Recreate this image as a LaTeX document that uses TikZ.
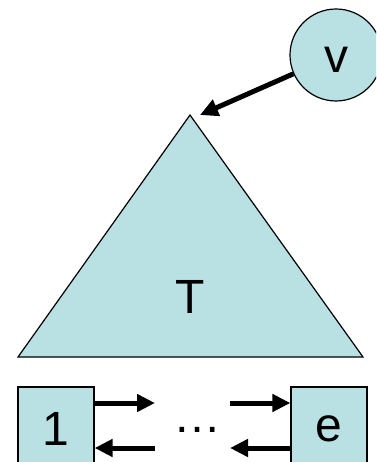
\documentclass[tikz,border=0pt]{standalone}
\usepackage{fontspec}
\setmainfont{Liberation Sans}
\usetikzlibrary{arrows.meta,positioning,calc}
\definecolor{treeblue}{RGB}{185,224,227}

\begin{document}
\begin{tikzpicture}[
    x=1pt, y=-1pt,
    vert/.style={circle, draw=black, line width=1.2pt, fill=treeblue, inner sep=0pt, minimum size=92pt, text height=35pt, text depth=0pt, font=\fontsize{48}{56}\selectfont},
    elem/.style={rectangle, draw=black, line width=1.2pt, fill=treeblue, minimum width=76pt, minimum height=84pt, font=\fontsize{48}{56}\selectfont},
    lbl/.style={font=\fontsize{48}{56}\selectfont},
    arrow/.style={-{Triangle[length=18pt, width=17pt]}, line width=5pt}
]
\useasboundingbox (0,0) rectangle (376,462);
\clip (0,0) rectangle (376,462);

% tree
\coordinate (apex) at (190,115);
\coordinate (bl) at (18,357);
\coordinate (br) at (363,357);
\filldraw[fill=treeblue, draw=black, line width=1.2pt, line join=miter] (apex) -- (br) -- (bl) -- cycle;
\node[lbl] (tree) at (190,297) {T};

% root vertex
\node[vert] (v) at (336,55) {v};
\coordinate (tip) at (200,115);
\draw[arrow] (v) -- (tip);

% element list
\node[elem] (one) at (56,429) {1};
\node[elem] (last) at (329,429) {e};
\node[lbl, anchor=base] (dots) at (197,432) {…};

\coordinate (r1) at (155,403);
\coordinate (r2) at (230,403);
\coordinate (l1) at (155,448);
\coordinate (l2) at (230,448);
\draw[arrow] (one.east |- r1) -- (r1);
\draw[arrow] (r2) -- (last.west |- r2);
\draw[arrow] (l1) -- (one.east |- l1);
\draw[arrow] (last.west |- l2) -- (l2);
\end{tikzpicture}
\end{document}
